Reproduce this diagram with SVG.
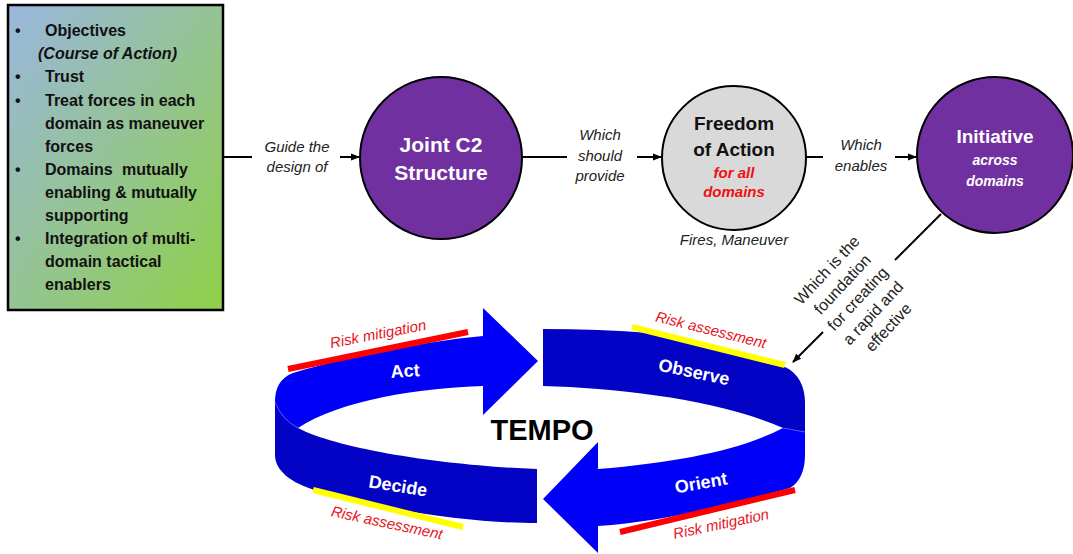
<svg xmlns="http://www.w3.org/2000/svg" width="1073" height="554" viewBox="0 0 1073 554">
<defs>
<linearGradient id="boxGrad" x1="0" y1="0" x2="1" y2="1">
<stop offset="0" stop-color="#9ab7de"/>
<stop offset="1" stop-color="#8fd048"/>
</linearGradient>
<marker id="arr" markerWidth="10" markerHeight="10" refX="8" refY="5" orient="auto" markerUnits="userSpaceOnUse">
<path d="M0,1.5 L9,5 L0,8.5 Z" fill="#000"/>
</marker>
<style>
.box{fill:url(#boxGrad);stroke:#000;stroke-width:2.5}
.bt{font-family:"Liberation Sans",Arial,sans-serif;font-size:16px;font-weight:bold;fill:#111}
.lbl{font-family:"Liberation Sans",Arial,sans-serif;font-size:15px;font-style:italic;fill:#222}
.diag{font-family:"Liberation Sans",Arial,sans-serif;font-size:16px;fill:#222}
.circP{fill:#7030a0;stroke:#000;stroke-width:2}
.circG{fill:#d9d9d9;stroke:#000;stroke-width:2}
.ct{font-family:"Liberation Sans",Arial,sans-serif;font-weight:bold;text-anchor:middle}
.conn{stroke:#000;stroke-width:2;fill:none}
.bright{fill:#0000f8}
.dark{fill:#0303c6}
.fold{stroke:#4a5cff;stroke-width:0.8;fill:none}
.band{font-family:"Liberation Sans",Arial,sans-serif;font-size:18px;font-weight:bold;fill:#fff;text-anchor:middle}
.risk{font-family:"Liberation Sans",Arial,sans-serif;font-size:15px;font-style:italic;fill:#e8141e;text-anchor:middle}
</style>
</defs>
<rect width="1073" height="554" fill="#fff"/>

<g id="objectives">
<rect class="box" x="8" y="5" width="215" height="305"/>
<text class="bt" x="15" y="36">•</text><text class="bt" x="45" y="36">Objectives</text>
<text class="bt" x="38" y="59" font-style="italic">(Course of Action)</text>
<text class="bt" x="15" y="82">•</text><text class="bt" x="45" y="82">Trust</text>
<text class="bt" x="15" y="106">•</text><text class="bt" x="45" y="106">Treat forces in each</text>
<text class="bt" x="45" y="129">domain as maneuver</text>
<text class="bt" x="45" y="152">forces</text>
<text class="bt" x="15" y="175">•</text><text class="bt" x="45" y="175" word-spacing="5">Domains mutually</text>
<text class="bt" x="45" y="198">enabling &amp; mutually</text>
<text class="bt" x="45" y="221">supporting</text>
<text class="bt" x="15" y="244">•</text><text class="bt" x="45" y="244">Integration of multi-</text>
<text class="bt" x="45" y="267">domain tactical</text>
<text class="bt" x="45" y="290">enablers</text>
</g>

<g id="joint-c2">
<circle class="circP" cx="441" cy="158" r="81"/>
<text class="ct" x="441" y="152" font-size="21" fill="#fff">Joint C2</text>
<text class="ct" x="441" y="180" font-size="21" fill="#fff">Structure</text>
</g>

<g id="freedom">
<circle class="circG" cx="734" cy="158" r="72"/>
<text class="ct" x="734" y="130" font-size="19" fill="#111">Freedom</text>
<text class="ct" x="734" y="156" font-size="19" fill="#111">of Action</text>
<text class="ct" x="734" y="178" font-size="15" font-style="italic" fill="#ee1111">for all</text>
<text class="ct" x="734" y="197" font-size="15" font-style="italic" fill="#ee1111">domains</text>
<text class="lbl" x="734" y="245" text-anchor="middle">Fires, Maneuver</text>
</g>

<g id="initiative">
<circle class="circP" cx="995" cy="155" r="78"/>
<text class="ct" x="995" y="143" font-size="19" fill="#fff">Initiative</text>
<text class="ct" x="995" y="165" font-size="14" font-style="italic" fill="#fff">across</text>
<text class="ct" x="995" y="186" font-size="14" font-style="italic" fill="#fff">domains</text>
</g>

<g id="connectors">
<line class="conn" x1="223" y1="157" x2="252" y2="157"/>
<line class="conn" x1="340" y1="157" x2="359" y2="157" marker-end="url(#arr)"/>
<text class="lbl" x="297" y="152" text-anchor="middle">Guide the</text>
<text class="lbl" x="297" y="172" text-anchor="middle">design of</text>

<line class="conn" x1="522" y1="157" x2="567" y2="157"/>
<line class="conn" x1="637" y1="157" x2="661" y2="157" marker-end="url(#arr)"/>
<text class="lbl" x="600" y="140" text-anchor="middle">Which</text>
<text class="lbl" x="600" y="161" text-anchor="middle">should</text>
<text class="lbl" x="600" y="181" text-anchor="middle">provide</text>

<line class="conn" x1="806" y1="157" x2="823" y2="157"/>
<line class="conn" x1="895" y1="157" x2="916" y2="157" marker-end="url(#arr)"/>
<text class="lbl" x="861" y="150" text-anchor="middle">Which</text>
<text class="lbl" x="861" y="171" text-anchor="middle">enables</text>

<line class="conn" x1="941" y1="214" x2="895" y2="260"/>
<line class="conn" x1="823" y1="332" x2="793" y2="362" marker-end="url(#arr)"/>
<g transform="translate(858,299) rotate(-47)">
<text class="diag" x="0" y="-37" text-anchor="middle">Which is the</text>
<text class="diag" x="0" y="-16" text-anchor="middle">foundation</text>
<text class="diag" x="0" y="5" text-anchor="middle">for creating</text>
<text class="diag" x="0" y="26" text-anchor="middle">a rapid and</text>
<text class="diag" x="0" y="47" text-anchor="middle">effective</text>
</g>
</g>

<g id="tempo-loop">
<path id="decide-band" class="dark" d="M537,469 L537,523 C480,523 400,514 318,491 C290,483 275,470 275,455 L275,402 Q282,420 298,428 C340,450 450,466 537,469 Z"/>
<path id="observe-band" class="dark" d="M543,329 L543,386 C620,388 720,400 783,428 L805,432 L805,402 C805,386 798,373 785,367 C740,352 700,340 650,333 Q600,329 543,329 Z"/>
<path id="act-arrow" class="bright" d="M298,428 Q282,420 275,402 C275,388 280,378 293,373 C350,356 420,342 483,336 L483,308 L538,361 L483,415 L483,386 C420,388 340,400 298,428 Z"/>
<path id="orient-arrow" class="bright" d="M543,499 L598,442 L598,469 C680,462 740,450 783,428 L805,432 L805,455 C805,470 800,482 790,488 C730,505 660,522 598,526 L598,553 Z"/>
<path class="fold" d="M275,402 Q282,420 298,428"/>
<path class="fold" d="M783,428 L805,432"/>

<line x1="288" y1="369" x2="468" y2="332" stroke="#ff0000" stroke-width="6"/>
<line x1="632" y1="327" x2="785" y2="365" stroke="#ffff00" stroke-width="6"/>
<line x1="313" y1="490" x2="463" y2="527" stroke="#ffff00" stroke-width="6"/>
<line x1="620" y1="532" x2="795" y2="490" stroke="#ff0000" stroke-width="6"/>

<text class="risk" transform="translate(378,334) rotate(-11)" y="5">Risk mitigation</text>
<text class="risk" transform="translate(711,330) rotate(14)" y="5">Risk assessment</text>
<text class="risk" transform="translate(387,523) rotate(12)" y="5">Risk assessment</text>
<text class="risk" transform="translate(721,524) rotate(-12)" y="5">Risk mitigation</text>

<text class="band" transform="translate(405,371) rotate(-4)" y="6">Act</text>
<text class="band" transform="translate(694,372) rotate(12)" y="6">Observe</text>
<text class="band" transform="translate(701,483) rotate(-10)" y="6">Orient</text>
<text class="band" transform="translate(398,486) rotate(9)" y="6">Decide</text>

<text x="542" y="440" font-family="Liberation Sans, Arial, sans-serif" font-size="29" font-weight="bold" fill="#000" text-anchor="middle">TEMPO</text>
</g>
</svg>
